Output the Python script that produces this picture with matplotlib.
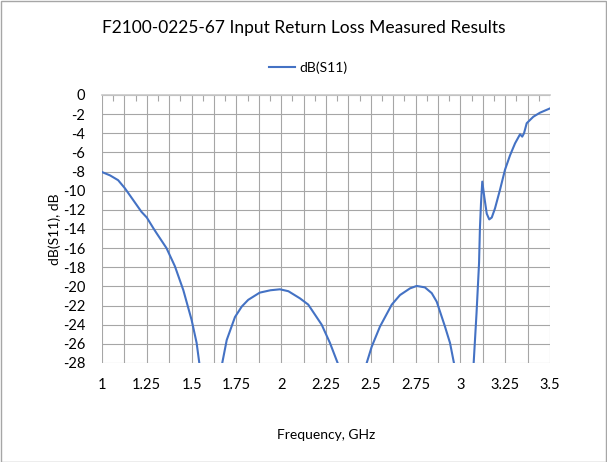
import numpy as np
import matplotlib
matplotlib.use("Agg")
import matplotlib.pyplot as plt
from matplotlib.patches import Rectangle

plt.rcParams['font.family'] = ['Lato', 'DejaVu Sans']
plt.rcParams['axes.unicode_minus'] = False

# Data (GHz, dB)
freq_ghz = [1.000, 1.045, 1.090, 1.128, 1.175, 1.220, 1.250, 1.286, 1.305, 1.360,
            1.407, 1.454, 1.500, 1.528, 1.543, 1.560, 1.600, 1.650, 1.671, 1.696,
            1.742, 1.780, 1.816, 1.880, 1.940, 1.993, 2.040, 2.105, 2.151, 2.226,
            2.272, 2.315, 2.340, 2.400, 2.450, 2.477, 2.505, 2.551, 2.617, 2.663,
            2.719, 2.756, 2.802, 2.840, 2.868, 2.914, 2.942, 2.964, 2.990, 3.030,
            3.060, 3.074, 3.090, 3.104, 3.109, 3.115, 3.122, 3.133, 3.147, 3.161,
            3.175, 3.193, 3.221, 3.249, 3.277, 3.305, 3.333, 3.345, 3.355, 3.370,
            3.407, 3.444, 3.500]
s11_db = [-8.05, -8.4, -8.9, -9.75, -11.0, -12.2, -12.8, -13.9, -14.45, -16.0,
          -17.9, -20.4, -23.5, -25.9, -28.0, -31.0, -38.0, -30.5, -28.0, -25.6,
          -23.2, -22.1, -21.4, -20.65, -20.4, -20.3, -20.5, -21.25, -21.9, -24.0,
          -25.9, -28.0, -31.0, -38.0, -31.0, -28.0, -26.3, -24.2, -21.9, -20.9,
          -20.2, -19.95, -20.1, -20.7, -21.6, -24.2, -25.9, -28.0, -32.0, -40.0,
          -31.0, -28.0, -22.8, -17.6, -13.9, -11.3, -9.05, -10.6, -12.4, -13.0,
          -12.8, -11.85, -9.9, -7.8, -6.3, -5.05, -4.1, -4.35, -4.0, -2.95,
          -2.27, -1.85, -1.4]

x_ticks = [1, 1.25, 1.5, 1.75, 2, 2.25, 2.5, 2.75, 3, 3.25, 3.5]
x_tick_labels = ["1", "1.25", "1.5", "1.75", "2", "2.25", "2.5", "2.75", "3", "3.25", "3.5"]
y_ticks = list(range(0, -30, -2))

W, H = 607, 462
fig = plt.figure(figsize=(W / 100, H / 100), dpi=100)
fig.patch.set_facecolor('white')
fig.patches.append(Rectangle((0.5 / W, 0.5 / H), 1 - 1.5 / W, 1 - 1.5 / H,
                             transform=fig.transFigure, fill=False,
                             edgecolor='#a6a6a6', linewidth=1.0))

left, right, top, bottom = 102, 550, 95, 363
ax = fig.add_axes([left / W, 1 - bottom / H, (right - left) / W, (bottom - top) / H])

line, = ax.plot(freq_ghz, s11_db, color='#4472C4', linewidth=1.5, label='dB(S11)')
ax.set_xlim(1, 3.5)
ax.set_ylim(-28, 0)

ax.set_xticks(x_ticks)
ax.set_xticklabels(x_tick_labels)
ax.set_xticks(np.arange(1, 3.5001, 0.125), minor=True)
ax.set_yticks(y_ticks)
ax.set_yticklabels([str(v) for v in y_ticks])

ax.grid(True, which='both', axis='x', color='#a6a6a6', linewidth=0.8)
ax.grid(True, which='major', axis='y', color='#a6a6a6', linewidth=0.8)
ax.set_axisbelow(True)
ax.tick_params(axis='both', which='both', length=0, labelsize=10.5, colors='#404040')
ax.tick_params(axis='x', pad=11)
ax.tick_params(axis='y', pad=12)
for t in ax.get_xticklabels() + ax.get_yticklabels():
    t.set_color('#000000')

for s in ['bottom', 'right', 'left']:
    ax.spines[s].set_visible(False)
ax.spines['top'].set_color('#c8c8c8')
ax.spines['top'].set_linewidth(1.2)

sec = ax.secondary_xaxis('top')
sec.set_xticks(np.arange(1.0625, 3.5, 0.125))
sec.tick_params(direction='in', length=4, color='#a6a6a6', labeltop=False, width=0.8)
sec.spines['top'].set_visible(False)

fig.text(303.5 / W, 1 - 28 / H, "F2100-0225-67 Input Return Loss Measured Results",
         ha='center', va='center', fontsize=12.5, color='#000000')
fig.legend(handles=[line], loc='center', bbox_to_anchor=(308 / W, 1 - 68 / H),
           frameon=False, fontsize=10, handlelength=1.9, handletextpad=0.3)
fig.text(326 / W, 1 - 435 / H, "Frequency, GHz", ha='center', va='center', fontsize=10)
fig.text(55 / W, 1 - 229 / H, "dB(S11), dB", ha='center', va='center', rotation=90, fontsize=10)

fig.savefig("out.png", dpi=100)
